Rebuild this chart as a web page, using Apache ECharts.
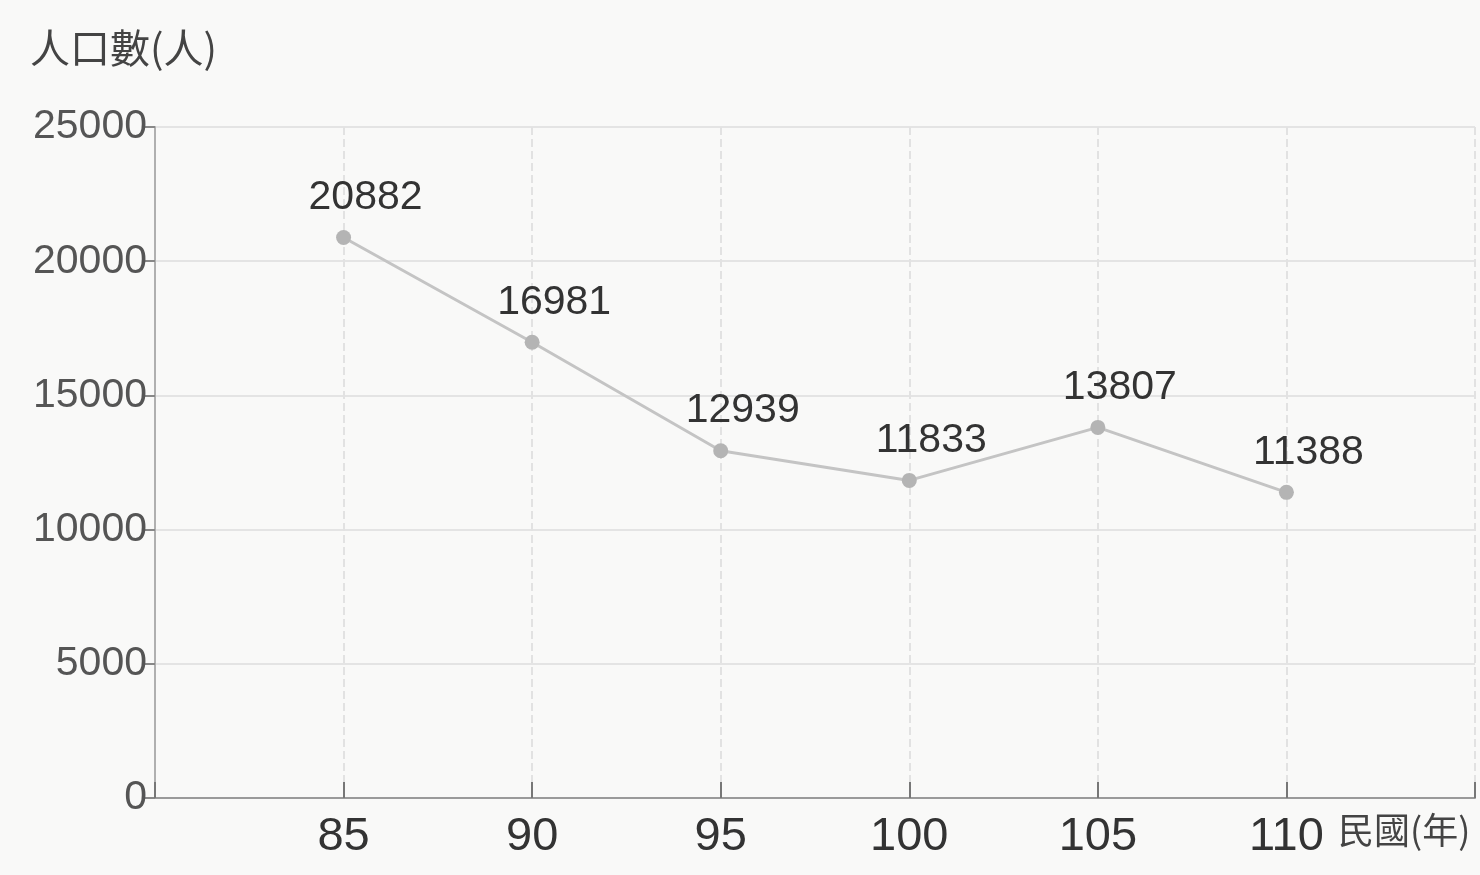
<!DOCTYPE html>
<html>
<head>
<meta charset="utf-8">
<script src="https://cdn.jsdelivr.net/npm/echarts@6/dist/echarts.min.js"></script>
<style>
html,body{margin:0;padding:0;background:#f9f9f8;}
#chart{width:1480px;height:875px;}
</style>
</head>
<body>
<div id="chart"></div>
<script>
const years = [85, 90, 95, 100, 105, 110];
const population = [20882, 16981, 12939, 11833, 13807, 11388];
const yTicks = [0, 5000, 10000, 15000, 20000, 25000];
const yName = '人口數(人)';
const xName = '民國(年)';

const chart = echarts.init(document.getElementById('chart'));
const numFont = '"Liberation Sans Narrow", "Liberation Sans", Arial, sans-serif';
const cjkFont = '"Noto Sans CJK TC", "Noto Sans CJK SC", sans-serif';

chart.setOption({
  backgroundColor: '#f9f9f8',
  animation: false,
  grid: { left: 155, right: 5, top: 127, bottom: 77 },
  xAxis: {
    type: 'value',
    min: 80, max: 115, interval: 5,
    axisLine: { show: true, lineStyle: { color: '#9a9a9a', width: 2 } },
    axisTick: { show: true, inside: true, length: 16, lineStyle: { color: '#777', width: 2 } },
    axisLabel: {
      margin: 16,
      fontFamily: numFont, fontSize: 47, color: '#333',
      formatter: v => (years.indexOf(v) >= 0 ? String(v) : '')
    },
    splitLine: { show: true, lineStyle: { color: '#e2e2e2', width: 2, type: 'dashed' } }
  },
  yAxis: {
    type: 'value',
    min: yTicks[0], max: yTicks[yTicks.length - 1], interval: 5000,
    axisLine: { show: true, lineStyle: { color: '#b0b0b0', width: 2 } },
    axisTick: { show: true, length: 10, lineStyle: { color: '#888', width: 2 } },
    axisLabel: { margin: 8, fontFamily: numFont, fontSize: 41, color: '#555', formatter: v => String(v) },
    splitLine: { show: true, lineStyle: { color: '#e4e4e4', width: 2 } }
  },
  graphic: [
    { type: 'text', left: 30, top: 28, style: { text: yName, font: '40px ' + cjkFont, fill: '#444' } },
    { type: 'text', left: 1338, top: 812, style: { text: xName, font: '36px ' + cjkFont, fill: '#444' } }
  ],
  series: [{
    type: 'line',
    data: years.map((y, i) => [y, population[i]]),
    symbol: 'circle',
    symbolSize: 15,
    lineStyle: { color: '#c4c4c4', width: 3 },
    itemStyle: { color: '#b4b4b4' },
    label: {
      show: true, position: 'top', distance: 12, offset: [22, 0],
      fontFamily: numFont, fontSize: 41, color: '#333',
      formatter: p => String(p.value[1])
    }
  }]
});
</script>
</body>
</html>
